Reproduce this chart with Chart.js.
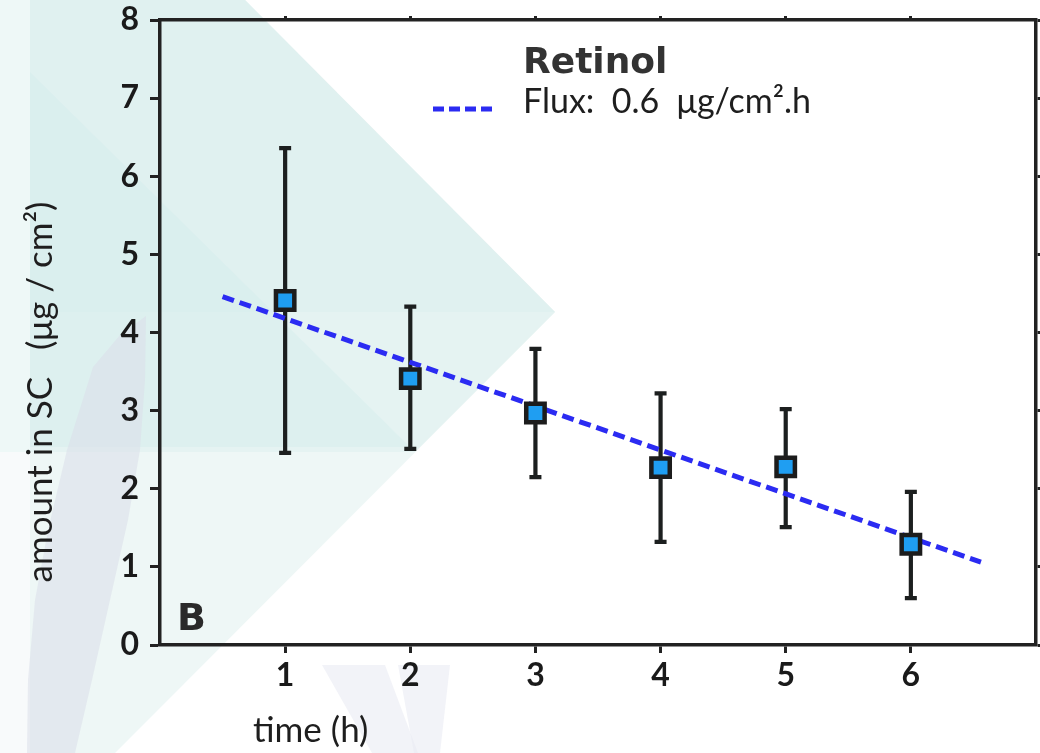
<!DOCTYPE html>
<html><head><meta charset="utf-8">
<script src="https://cdn.jsdelivr.net/npm/chart.js@4.4.0/dist/chart.umd.min.js"></script>
<style>html,body{margin:0;padding:0;background:#fff}#wrap{width:1040px;height:753px;position:relative}</style>
</head><body><div id="wrap"><canvas id="c" width="1040" height="753"></canvas></div>
<script>
// ---- data ----
const times = [1, 2, 3, 4, 5, 6];
const amounts = [4.41, 3.41, 2.97, 2.27, 2.28, 1.29];
const errLow = [2.46, 2.51, 2.15, 1.32, 1.51, 0.60];
const errHigh = [6.36, 4.33, 3.79, 3.22, 3.02, 1.96];
const fitX = [0.5, 6.56];
const fitY = [4.46, 1.06];
const xTicks = [1, 2, 3, 4, 5, 6];
const yTicks = [0, 1, 2, 3, 4, 5, 6, 7, 8];
const titleText = 'Retinol';
const legendText = 'Flux:  0.6  \u03bcg/cm\u00b2.h';
const panelLabel = 'B';
const xTitle = 'time (h)';
const yTitle = 'amount in SC   (\u03bcg / cm\u00b2)';

// ---- watermark background ----
const bgPlugin = {
  id: 'bg',
  beforeDraw(chart) {
    const ctx = chart.ctx;
    ctx.save();
    ctx.fillStyle = '#ffffff';
    ctx.fillRect(0, 0, chart.width, chart.height);
    const poly = (pts, col) => {
      ctx.beginPath();
      ctx.moveTo(pts[0][0], pts[0][1]);
      for (let i = 1; i < pts.length; i++) ctx.lineTo(pts[i][0], pts[i][1]);
      ctx.closePath();
      ctx.fillStyle = col;
      ctx.fill();
    };
    // main teal triangle
    poly([[0,0],[245,0],[555,312],[115,753],[0,753]], '#eef7f6');
    // upper teal (above 452)
    poly([[0,0],[245,0],[555,312],[415,452],[0,452]], '#e5f3f2');
    // darker areas
    poly([[30,72],[410,447],[30,447]], 'rgba(205,234,234,0.35)');
    poly([[30,0],[245,0],[555,312],[30,312]], 'rgba(210,237,236,0.25)');
    // light left strip
    poly([[0,0],[30,0],[30,452],[0,452]], '#eef8f7');
    poly([[0,452],[30,452],[30,753],[0,753]], '#f8fafb');
    // lavender slanted band
    poly([[146,316],[120,335],[93,367],[67,450],[48,530],[35,600],[28,680],[27,753],
          [75,753],[92,680],[110,600],[128,520],[140,450],[145,380]], 'rgba(218,222,234,0.55)');
    // bottom V shape
    poly([[322,665],[385,665],[418,753],[372,753]], 'rgba(234,235,244,0.6)');
    poly([[398,665],[450,665],[440,753],[414,753]], 'rgba(234,235,244,0.6)');
    ctx.restore();
  }
};

// ---- error bars ----
const errPlugin = {
  id: 'err',
  beforeDatasetsDraw(chart) {
    const ctx = chart.ctx, xs = chart.scales.x, ys = chart.scales.y;
    ctx.save();
    ctx.strokeStyle = '#1c1f1f';
    ctx.lineWidth = 4.2;
    for (let i = 0; i < times.length; i++) {
      const px = xs.getPixelForValue(times[i]);
      const p1 = ys.getPixelForValue(errLow[i]);
      const p2 = ys.getPixelForValue(errHigh[i]);
      ctx.beginPath();
      ctx.moveTo(px, p1); ctx.lineTo(px, p2);
      ctx.moveTo(px - 6, p1); ctx.lineTo(px + 6, p1);
      ctx.moveTo(px - 6, p2); ctx.lineTo(px + 6, p2);
      ctx.stroke();
    }
    ctx.restore();
  }
};

// ---- texts ----
const textPlugin = {
  id: 'texts',
  afterDraw(chart) {
    const ctx = chart.ctx;
    ctx.save();
    ctx.fillStyle = '#333333';
    ctx.font = 'bold 36px "DejaVu Sans"';
    ctx.textAlign = 'left';
    ctx.textBaseline = 'alphabetic';
    ctx.fillText(titleText, 523, 73);
    // legend sample
    ctx.strokeStyle = '#2b2bf2';
    ctx.lineWidth = 5;
    ctx.setLineDash([11, 5]);
    ctx.beginPath(); ctx.moveTo(433, 109); ctx.lineTo(497, 109); ctx.stroke();
    ctx.setLineDash([]);
    ctx.fillStyle = '#1e1e1e';
    ctx.font = '34px Lato';
    ctx.fillText(legendText, 523, 113);
    // panel label
    ctx.fillStyle = '#2a2a2a';
    ctx.font = 'bold 38px "DejaVu Sans"';
    ctx.fillText(panelLabel, 177, 630);
    // axis titles
    ctx.fillStyle = '#1e1e1e';
    ctx.font = '35px Lato';
    ctx.fillText(xTitle, 253, 742);
    ctx.translate(52, 392);
    ctx.rotate(-Math.PI / 2);
    ctx.textAlign = 'center';
    ctx.fillText(yTitle, 0, 0);
    ctx.restore();
  }
};

const axisCol = '#222222';
const tickFont = { family: 'Lato', weight: 'bold', size: 32 };
const noPadX = s => { s.paddingLeft = 0; s.paddingRight = 0; };
const noPadY = s => { s.paddingTop = 0; s.paddingBottom = 0; };

new Chart(document.getElementById('c'), {
  type: 'scatter',
  data: {
    datasets: [
      {
        label: 'data',
        data: times.map((t, i) => ({ x: t, y: amounts[i] })),
        pointStyle: 'rect',
        pointRadius: 13,
        pointHoverRadius: 13,
        backgroundColor: '#1f9ef2',
        borderColor: '#1c1c1c',
        borderWidth: 4.5,
        order: 0
      },
      {
        type: 'line',
        label: legendText,
        data: fitX.map((x, i) => ({ x: x, y: fitY[i] })),
        borderColor: '#2b2bf2',
        borderWidth: 5,
        borderDash: [12, 6],
        pointRadius: 0,
        fill: false,
        showLine: true,
        order: 1
      }
    ]
  },
  options: {
    responsive: false,
    animation: false,
    layout: { padding: 0, autoPadding: false },
    plugins: { legend: { display: false }, tooltip: { enabled: false } },
    scales: {
      x: {
        type: 'linear', position: 'bottom', min: 0, max: 7,
        afterBuildTicks: s => { s.ticks = xTicks.map(v => ({ value: v })); },
        grid: { drawOnChartArea: false, drawTicks: true, tickLength: 8, tickWidth: 3, tickColor: axisCol },
        border: { display: true, color: axisCol, width: 3.5 },
        ticks: { font: tickFont, color: '#1a1a1a', padding: 3, maxRotation: 0 },
        afterFit: s => { s.height = 108; noPadX(s); }
      },
      x2: {
        type: 'linear', position: 'top', min: 0, max: 7,
        afterBuildTicks: s => { s.ticks = xTicks.map(v => ({ value: v })); },
        grid: { drawOnChartArea: false, drawTicks: true, tickLength: 4, tickWidth: 3, tickColor: axisCol },
        border: { display: true, color: axisCol, width: 3.5 },
        ticks: { display: false },
        afterFit: s => { s.height = 20; noPadX(s); }
      },
      y: {
        type: 'linear', position: 'left', min: 0, max: 8,
        afterBuildTicks: s => { s.ticks = yTicks.map(v => ({ value: v })); },
        grid: { drawOnChartArea: false, drawTicks: true, tickLength: 10, tickWidth: 3, tickColor: axisCol },
        border: { display: true, color: axisCol, width: 3.5 },
        ticks: { font: tickFont, color: '#1a1a1a', padding: 11 },
        afterFit: s => { s.width = 160; noPadY(s); }
      },
      y2: {
        type: 'linear', position: 'right', min: 0, max: 8,
        afterBuildTicks: s => { s.ticks = yTicks.map(v => ({ value: v })); },
        grid: { drawOnChartArea: false, drawTicks: true, tickLength: 4, tickWidth: 3, tickColor: axisCol },
        border: { display: true, color: axisCol, width: 3.5 },
        ticks: { display: false },
        afterFit: s => { s.width = 4; noPadY(s); }
      }
    }
  },
  plugins: [bgPlugin, errPlugin, textPlugin]
});
</script>
</body></html>
